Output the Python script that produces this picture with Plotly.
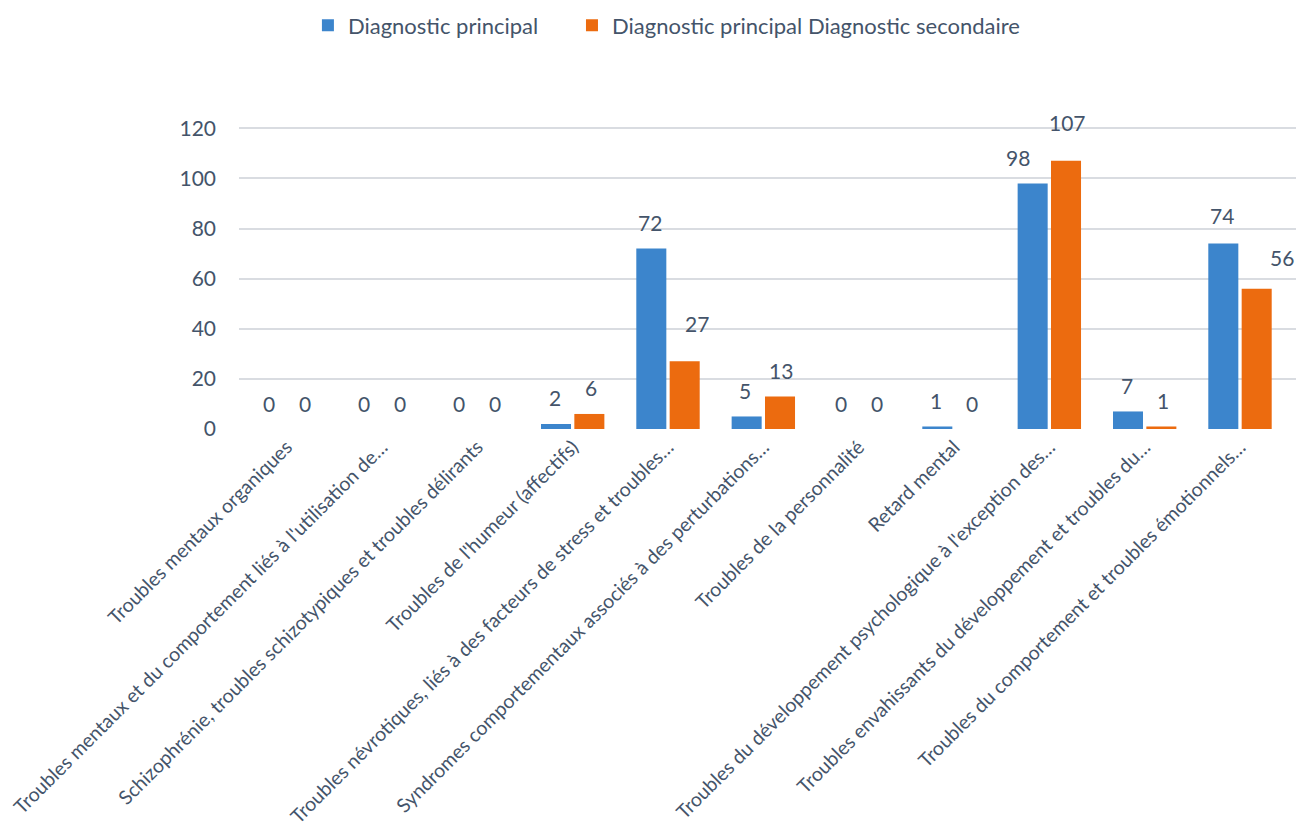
import plotly.graph_objects as go

categories = [
    "Troubles mentaux organiques",
    "Troubles mentaux et du comportement liés à l'utilisation de…",
    "Schizophrénie, troubles schizotypiques et troubles délirants",
    "Troubles de l'humeur (affectifs)",
    "Troubles névrotiques, liés à des facteurs de stress et troubles…",
    "Syndromes comportementaux associés à des perturbations…",
    "Troubles de la personnalité",
    "Retard mental",
    "Troubles du développement psychologique à l'exception des…",
    "Troubles envahissants du développement et troubles du…",
    "Troubles du comportement et troubles émotionnels…",
]
series_names = ["Diagnostic principal", "Diagnostic principal Diagnostic secondaire"]
principal = [0, 0, 0, 2, 72, 5, 0, 1, 98, 7, 74]
secondaire = [0, 0, 0, 6, 27, 13, 0, 0, 107, 1, 56]
y_ticks = [0, 20, 40, 60, 80, 100, 120]

# data-label nudges in pixels (labels were hand-placed in the original)
label_dx = [
    [-18, -18, -18, -18, -18, -18, -18, -18, -31, -18, -18],
    [18, 18, 18, 18, 29, 18, 18, 18, 18, 18, 42],
]
label_dy = [
    [26, 26, 26, 26, 26, 26, 26, 26, 26, 26, 28],
    [26, 26, 26, 26, 38, 26, 26, 26, 38, 26, 31],
]

TEXT = "#44546A"
FONT = "Lato"
colors = ["#3C85CC", "#EC6B0F"]
legend_ids = ["legend", "legend2"]

fig = go.Figure()
for name, vals, col, lg in zip(series_names, [principal, secondaire], colors, legend_ids):
    fig.add_trace(go.Bar(x=categories, y=vals, name=name, legend=lg,
                         marker=dict(color=col, line=dict(width=0))))

for vals, dxs, dys in zip([principal, secondaire], label_dx, label_dy):
    for c, v, dx, dy in zip(categories, vals, dxs, dys):
        fig.add_annotation(x=c, y=v, text=str(v), showarrow=False, xshift=dx, yshift=dy,
                           yanchor="middle", font=dict(family=FONT, size=21, color=TEXT))

legend_common = dict(orientation="h", xref="container", yref="container", xanchor="left",
                     y=0.979, yanchor="middle", font=dict(family=FONT, size=22, color=TEXT),
                     itemclick=False, itemwidth=30)

fig.update_layout(
    width=1304, height=826,
    margin=dict(l=231, r=16, t=119, b=405),
    paper_bgcolor="white", plot_bgcolor="white",
    barmode="group", bargap=0.3, bargroupgap=0.1,
    font=dict(family=FONT, size=20, color=TEXT),
    showlegend=True,
    legend=dict(x=0.230, **legend_common),
    legend2=dict(x=0.4325, **legend_common),
    xaxis=dict(tickangle=-45, tickfont=dict(family=FONT, size=19.5, color=TEXT), showgrid=False,
               showline=False, ticks="", automargin=False, ticklabelstandoff=2),
    yaxis=dict(range=[0, 120.5], tickvals=y_ticks, showgrid=True, gridcolor="#D9DCE1", gridwidth=1.5,
               zeroline=False, showline=False, ticks="", ticklabelstandoff=22, automargin=False,
               tickfont=dict(family=FONT, size=21, color=TEXT)),
)
fig.write_html("out.html")
